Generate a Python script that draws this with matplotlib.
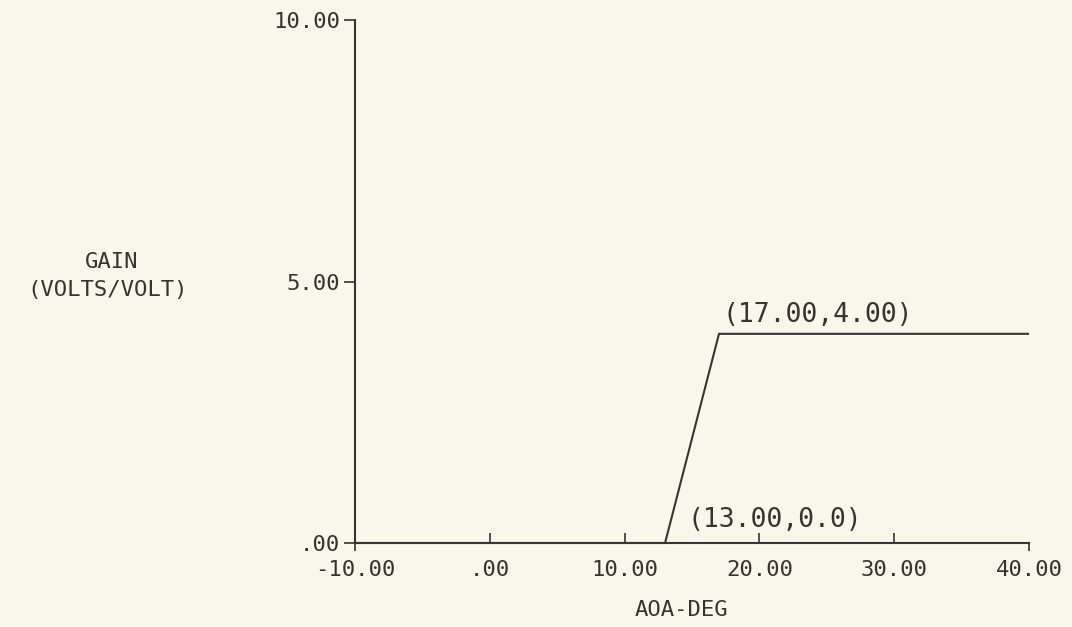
import matplotlib
matplotlib.use("Agg")
import matplotlib.pyplot as plt

# breakpoints of the gain schedule
aoa = [-10.0, 13.0, 17.0, 40.0]
gain = [0.0, 0.0, 4.0, 4.0]

xticks = [-10, 0, 10, 20, 30, 40]
xticklabels = ["-10.00", ".00", "10.00", "20.00", "30.00", "40.00"]
yticks = [0, 5, 10]
yticklabels = [".00", "5.00", "10.00"]

# annotated corners: (x, y, text, dx px, dy px)
notes = [(17.0, 4.0, "(17.00,4.00)", 4, 12),
         (13.0, 0.0, "(13.00,0.0)", 22, 16)]

BG = "#f8f7e9"
INK = "#3a3331"
FONT = ["DejaVu Sans Mono"]

fig = plt.figure(figsize=(10.72, 6.27), dpi=100, facecolor=BG)
ax = fig.add_axes([0.3312, 0.134, 0.6287, 0.834])
ax.set_facecolor(BG)

ax.plot(aoa, gain, color=INK, linewidth=1.5, solid_capstyle="butt", clip_on=False)

ax.set_xlim(-10, 40)
ax.set_ylim(0, 10)
for s in ("top", "right"):
    ax.spines[s].set_visible(False)
for s in ("left", "bottom"):
    ax.spines[s].set_color(INK)
    ax.spines[s].set_linewidth(1.5)

ax.set_xticks(xticks)
ax.set_xticklabels(xticklabels, family=FONT, fontsize=16, color=INK)
ax.set_yticks(yticks)
ax.set_yticklabels(yticklabels, family=FONT, fontsize=16, color=INK)
ax.tick_params(axis="x", direction="in", length=7, width=1.2, color=INK, pad=12)
ax.tick_params(axis="y", direction="out", length=8, width=1.2, color=INK, pad=3)

# end ticks of the x axis hang below the line, like the plotter drew them
ax.xaxis.remove_overlapping_locs = False
ax.set_xticks([xticks[0], xticks[-1]], minor=True)
ax.tick_params(axis="x", which="minor", direction="out", length=6, width=1.2, color=INK)
major = ax.xaxis.get_major_ticks()
major[0].tick1line.set_visible(False)
major[-1].tick1line.set_visible(False)

for x, y, txt, dx, dy in notes:
    ax.annotate(txt, (x, y), xytext=(dx, dy), textcoords="offset pixels",
                ha="left", va="baseline", family=FONT, fontsize=19, color=INK)

fig.text(681 / 1072, 1 - 610 / 627, "AOA-DEG", ha="center", va="center",
         family=FONT, fontsize=16, color=INK)
fig.text(112 / 1072, 1 - 262 / 627, "GAIN", ha="center", va="center",
         family=FONT, fontsize=16, color=INK)
fig.text(108 / 1072, 1 - 290 / 627, "(VOLTS/VOLT)", ha="center", va="center",
         family=FONT, fontsize=16, color=INK)

fig.savefig("out.png", dpi=100, facecolor=BG)
